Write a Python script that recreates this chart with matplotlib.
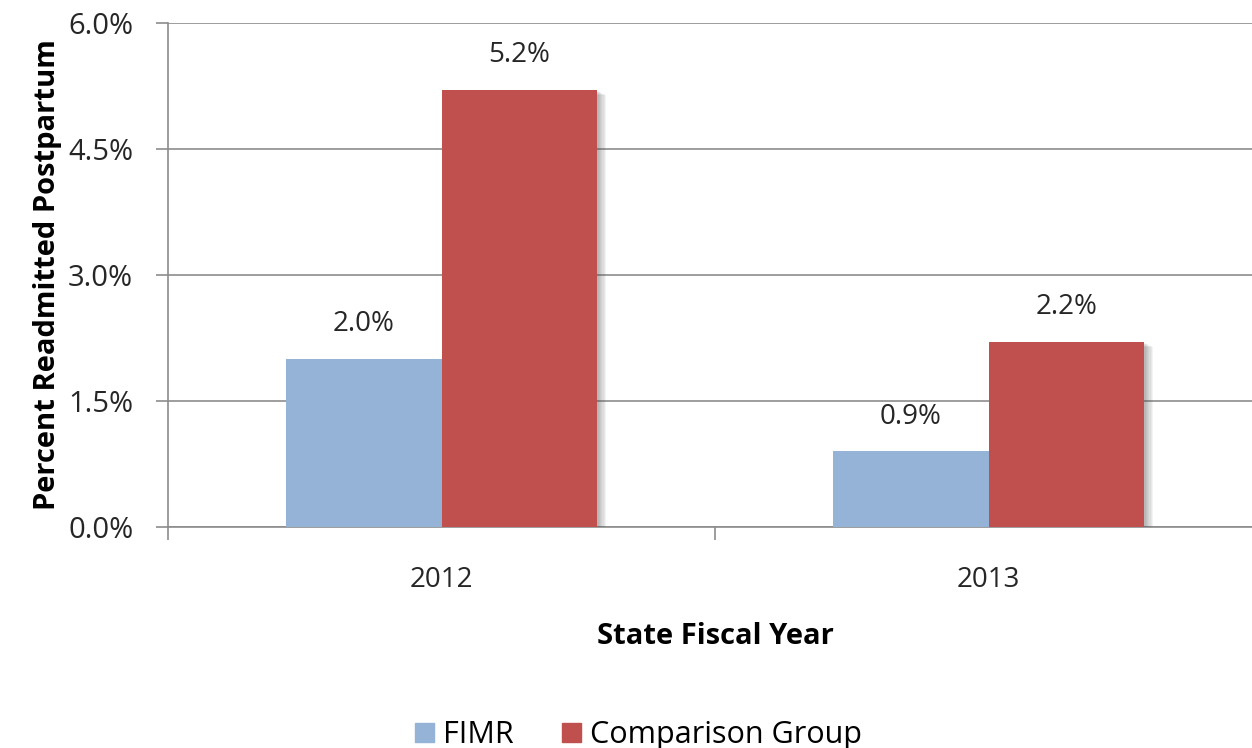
import numpy as np
import matplotlib.pyplot as plt
import matplotlib.patheffects as pe
from matplotlib.patches import Patch

years = ['2012', '2013']
fimr = [2.0, 0.9]
comparison = [5.2, 2.2]
series_names = ['FIMR', 'Comparison Group']
colors = ['#95B3D7', '#C0504D']

plt.rcParams['font.family'] = ['Open Sans', 'DejaVu Sans']
txt = '#262626'

fig = plt.figure(figsize=(12.52, 7.48), dpi=100)
ax = fig.add_axes([168 / 1252, 1 - 527 / 748, 1094 / 1252, (527 - 23) / 748])

x = np.arange(len(years))
w = 0.285
# soft shadow to the right of each bar
shadow = [pe.SimplePatchShadow(offset=(i * 0.9, -i * 0.5), shadow_rgbFace='#555555', alpha=0.07)
          for i in range(1, 8)] + [pe.Normal()]

b1 = ax.bar(x - w / 2, fimr, w, color=colors[0], zorder=3)
b2 = ax.bar(x + w / 2, comparison, w, color=colors[1], zorder=3)
for bars in (b1, b2):
    for p in bars:
        p.set_path_effects(shadow)

for bars, vals in ((b1, fimr), (b2, comparison)):
    for p, v in zip(bars, vals):
        ax.annotate('%.1f%%' % v, (p.get_x() + p.get_width() / 2, v), xytext=(0, 15),
                    textcoords='offset points', ha='center', va='bottom', fontsize=20, color=txt)

yt = np.arange(0, 6.01, 1.5)
ax.set_xlim(-0.5, 1.5)
ax.set_ylim(0, 6)
ax.set_yticks(yt)
ax.set_yticklabels(['%.1f%%' % t for t in yt], fontsize=21, color=txt)
ax.yaxis.grid(True, color='#8c8c8c', linewidth=1.2, zorder=0)
ax.set_axisbelow(True)

ax.set_xticks(x)
ax.set_xticklabels(years, fontsize=20, color=txt)
ax.set_xticks([-0.5, 0.5, 1.5], minor=True)
ax.tick_params(axis='x', which='major', length=0, pad=28)
ax.tick_params(axis='x', which='minor', length=9, color='#8c8c8c', width=1.2)
ax.tick_params(axis='y', length=9, color='#8c8c8c', width=1.2, pad=16)

for s in ('top', 'right'):
    ax.spines[s].set_visible(False)
for s in ('left', 'bottom'):
    ax.spines[s].set_color('#8c8c8c')
    ax.spines[s].set_linewidth(1.2)

ax.set_xlabel('State Fiscal Year', fontsize=21, fontweight='bold', labelpad=20)
ax.set_ylabel('Percent Readmitted Postpartum', fontsize=21, fontweight='bold', labelpad=4)

handles = [Patch(color=c, label=n) for c, n in zip(colors, series_names)]
fig.legend(handles=handles, loc='lower center', bbox_to_anchor=(0.51, -0.04), ncol=2, frameon=False,
           fontsize=22, handlelength=0.6, handleheight=0.6, handletextpad=0.3, columnspacing=1.6)

fig.savefig('out.png', dpi=100)
